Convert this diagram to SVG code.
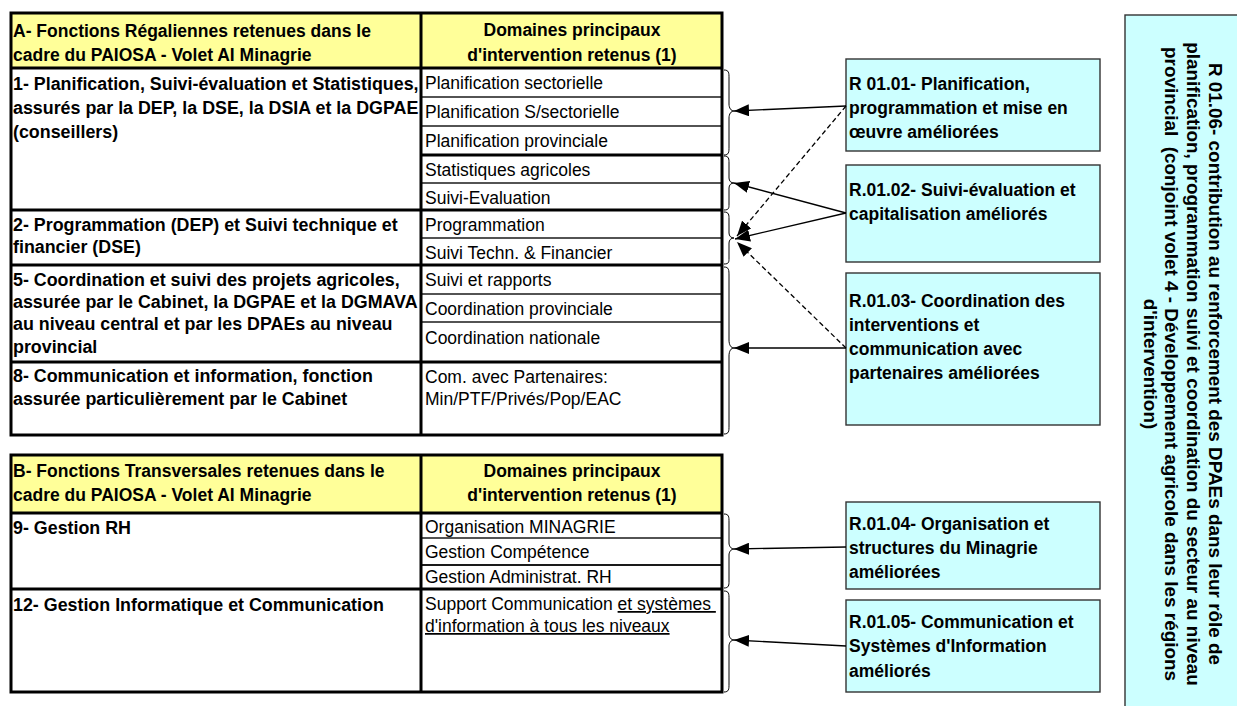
<svg xmlns="http://www.w3.org/2000/svg" width="1237" height="706" viewBox="0 0 1237 706">
<style>
text{font-family:"Liberation Sans",Arial,sans-serif;font-size:17.5px;fill:#000}
.b{font-weight:bold}
.r{font-size:17.85px}
.v{font-size:18.9px}
.c{text-anchor:middle}
.hdr{fill:#FFFF99}
.frame{fill:none;stroke:#000;stroke-width:3}
.thick{stroke:#000;stroke-width:3}
.thin{stroke:#1a1a1a;stroke-width:1.6}
.box{fill:#CCFFFF;stroke:#333;stroke-width:1.4}
.brace{fill:none;stroke:#000;stroke-width:1}
.arr{fill:none;stroke:#000;stroke-width:1.3;marker-end:url(#ah)}
.dash{stroke-dasharray:5,3}
.u{text-decoration:underline}
</style>
<defs>
<marker id="ah" viewBox="0 0 15 12" markerWidth="15" markerHeight="12" refX="15" refY="6" orient="auto" markerUnits="userSpaceOnUse">
<path d="M0,0 L15,6 L0,12 z" fill="#000"/>
</marker>
</defs>

<g id="tableA">
<rect class="hdr" x="11" y="13" width="711" height="55"/>
<line class="thick" x1="11" y1="68" x2="722" y2="68"/>
<line class="thick" x1="11" y1="210" x2="722" y2="210"/>
<line class="thick" x1="11" y1="265" x2="722" y2="265"/>
<line class="thick" x1="11" y1="362" x2="722" y2="362"/>
<line class="thin" x1="421" y1="97" x2="722" y2="97"/>
<line class="thin" x1="421" y1="126" x2="722" y2="126"/>
<line class="thick" x1="421" y1="155" x2="722" y2="155"/>
<line class="thin" x1="421" y1="183" x2="722" y2="183"/>
<line class="thin" x1="421" y1="238" x2="722" y2="238"/>
<line class="thin" x1="421" y1="294" x2="722" y2="294"/>
<line class="thin" x1="421" y1="322" x2="722" y2="322"/>
<line class="thick" x1="421" y1="13" x2="421" y2="435"/>
<rect class="frame" x="11" y="13" width="711" height="422"/>
<text class="b" x="13" y="37">A- Fonctions Régaliennes retenues dans le</text>
<text class="b" x="13" y="61">cadre du PAIOSA - Volet AI Minagrie</text>
<text class="b c" x="572" y="36">Domaines principaux</text>
<text class="b c" x="572" y="61">d'intervention retenus (1)</text>
<text class="b r" x="13" y="89.5">1- Planification, Suivi-évaluation et Statistiques,</text>
<text class="b r" x="13" y="114">assurés par la DEP, la DSE, la DSIA et la DGPAE</text>
<text class="b r" x="13" y="138">(conseillers)</text>
<text class="b r" x="13" y="231">2- Programmation (DEP) et Suivi technique et</text>
<text class="b r" x="13" y="253">financier (DSE)</text>
<text class="b r" x="13" y="286">5- Coordination et suivi des projets agricoles,</text>
<text class="b r" x="13" y="308">assurée par le Cabinet, la DGPAE et la DGMAVA</text>
<text class="b r" x="13" y="330">au niveau central et par les DPAEs au niveau</text>
<text class="b r" x="13" y="353">provincial</text>
<text class="b r" x="13" y="382">8- Communication et information, fonction</text>
<text class="b r" x="13" y="405">assurée particulièrement par le Cabinet</text>
<text x="425" y="89">Planification sectorielle</text>
<text x="425" y="118">Planification S/sectorielle</text>
<text x="425" y="147">Planification provinciale</text>
<text x="425" y="176">Statistiques agricoles</text>
<text x="425" y="204">Suivi-Evaluation</text>
<text x="425" y="231">Programmation</text>
<text x="425" y="259">Suivi Techn. &amp; Financier</text>
<text x="425" y="286">Suivi et rapports</text>
<text x="425" y="315">Coordination provinciale</text>
<text x="425" y="344">Coordination nationale</text>
<text x="425" y="383">Com. avec Partenaires:</text>
<text x="425" y="405">Min/PTF/Privés/Pop/EAC</text>
</g>

<g id="tableB">
<rect class="hdr" x="11" y="455" width="711" height="58"/>
<line class="thick" x1="11" y1="513" x2="722" y2="513"/>
<line class="thick" x1="11" y1="589" x2="722" y2="589"/>
<line class="thin" x1="421" y1="538" x2="722" y2="538"/>
<line class="thin" x1="421" y1="565" x2="722" y2="565" style="stroke-width:2"/>
<line class="thick" x1="421" y1="455" x2="421" y2="692"/>
<rect class="frame" x="11" y="455" width="711" height="237"/>
<text class="b" x="13" y="477">B- Fonctions Transversales retenues dans le</text>
<text class="b" x="13" y="501">cadre du PAIOSA - Volet AI Minagrie</text>
<text class="b c" x="572" y="477">Domaines principaux</text>
<text class="b c" x="572" y="501">d'intervention retenus (1)</text>
<text class="b r" x="13" y="534">9- Gestion RH</text>
<text class="b r" x="13" y="611">12- Gestion Informatique et Communication</text>
<text x="425" y="533">Organisation MINAGRIE</text>
<text x="425" y="558">Gestion Compétence</text>
<text x="425" y="583">Gestion Administrat. RH</text>
<text x="425" y="610">Support Communication <tspan class="u">et systèmes&#160;</tspan></text>
<text x="425" y="632"><tspan class="u">d'information à tous les niveaux</tspan></text>
</g>

<g id="braces">
<path class="brace" d="M724,70 C729,70 729,73 729,78 L729,104 C729,108 731,111 734,111 C731,111 729,114 729,118 L729,147 C729,152 729,155 724,155"/>
<path class="brace" d="M724,156 C729,156 729,159 729,163 L729,178 C729,181 731,183 734,183 C731,183 729,185 729,188 L729,204 C729,208 729,210 724,210"/>
<path class="brace" d="M724,212 C729,212 729,215 729,219 L729,233 C729,236 731,238 734,238 C731,238 729,240 729,243 L729,258 C729,262 729,264 724,264"/>
<path class="brace" d="M724,267 C729,267 729,270 729,276 L729,340 C729,345 731,348 734,348 C731,348 729,351 729,356 L729,426 C729,431 729,434 724,434"/>
<path class="brace" d="M724,514 C729,514 729,517 729,522 L729,543 C729,546 731,549 734,549 C731,549 729,552 729,555 L729,581 C729,585 729,588 724,588"/>
<path class="brace" d="M724,591 C729,591 729,594 729,599 L729,634 C729,637 731,640 734,640 C731,640 729,643 729,646 L729,684 C729,689 729,692 724,692"/>
</g>

<g id="R0101">
<rect class="box" x="846" y="59" width="254" height="92"/>
<text class="b" x="849" y="89.5">R 01.01- Planification,</text>
<text class="b" x="849" y="113.5">programmation et mise en</text>
<text class="b" x="849" y="137.5">œuvre améliorées</text>
</g>
<g id="R0102">
<rect class="box" x="846" y="165" width="254" height="97"/>
<text class="b" x="849" y="196">R.01.02- Suivi-évaluation et</text>
<text class="b" x="849" y="220">capitalisation améliorés</text>
</g>
<g id="R0103">
<rect class="box" x="846" y="273" width="254" height="152"/>
<text class="b" x="849" y="307">R.01.03- Coordination des</text>
<text class="b" x="849" y="331">interventions et</text>
<text class="b" x="849" y="355">communication avec</text>
<text class="b" x="849" y="379">partenaires améliorées</text>
</g>
<g id="R0104">
<rect class="box" x="846" y="502" width="254" height="87"/>
<text class="b" x="849" y="530">R.01.04- Organisation et</text>
<text class="b" x="849" y="554">structures du Minagrie</text>
<text class="b" x="849" y="578">améliorées</text>
</g>
<g id="R0105">
<rect class="box" x="846" y="600" width="254" height="92"/>
<text class="b" x="849" y="628">R.01.05- Communication et</text>
<text class="b" x="849" y="652">Systèmes d'Information</text>
<text class="b" x="849" y="677">améliorés</text>
</g>
<g id="R0106">
<rect class="box" x="1125" y="15" width="200" height="760"/>
<text class="b c v" transform="translate(1209,364) rotate(90)">R 01.06- contribution au renforcement des DPAEs dans leur rôle de</text>
<text class="b c v" transform="translate(1187,364) rotate(90)">planification, programmation suivi et coordination du secteur au niveau</text>
<text class="b c v" transform="translate(1165,364) rotate(90)">provincial &#160;(conjoint volet 4 - Développement agricole dans les régions</text>
<text class="b c v" transform="translate(1144,364) rotate(90)">d'intervention)</text>
</g>

<g id="connectors">
<line class="arr" x1="846" y1="106" x2="734" y2="111"/>
<line class="arr dash" x1="846" y1="106" x2="737" y2="236"/>
<line class="arr" x1="846" y1="213" x2="734" y2="183"/>
<line class="arr" x1="846" y1="213" x2="735" y2="239"/>
<line class="arr dash" x1="846" y1="348" x2="737" y2="242"/>
<line class="arr" x1="846" y1="348" x2="734" y2="348"/>
<line class="arr" x1="846" y1="547" x2="734" y2="549"/>
<line class="arr" x1="846" y1="646" x2="734" y2="640"/>
</g>
</svg>
